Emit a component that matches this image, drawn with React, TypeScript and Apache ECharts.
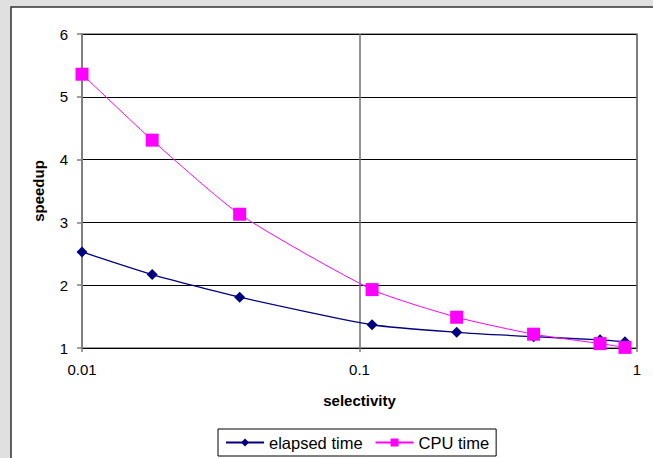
import React, { useEffect, useRef } from "react";
import * as echarts from "echarts";

const selectivity = [0.01, 0.0179, 0.037, 0.111, 0.224, 0.424, 0.736, 0.905];
const elapsedTime = [2.53, 2.17, 1.81, 1.37, 1.25, 1.18, 1.13, 1.1];
const cpuTime = [5.36, 4.31, 3.13, 1.93, 1.49, 1.22, 1.07, 1.01];
const seriesNames = ["elapsed time", "CPU time"];

const FONT = "Liberation Sans, Arial, sans-serif";

export default function App() {
  const ref = useRef<HTMLDivElement>(null);
  useEffect(() => {
    if (!ref.current) return;
    const chart = echarts.init(ref.current, null, { renderer: "svg" });
    chart.setOption({
      animation: false,
      backgroundColor: "#e0e0e0",
      textStyle: { fontFamily: FONT },
      graphic: [
        {
          type: "rect",
          z: -10,
          silent: true,
          shape: { x: 11, y: 7, width: 700, height: 500 },
          style: { fill: "#ffffff", stroke: "#333333", lineWidth: 1.5 },
        },
      ],
      grid: {
        left: 82,
        top: 34,
        right: 16,
        bottom: 110,
        show: true,
        borderColor: "#808080",
        borderWidth: 1.5,
        backgroundColor: "#ffffff",
      },
      xAxis: {
        type: "log",
        logBase: 10,
        min: 0.01,
        max: 1,
        name: "selectivity",
        nameLocation: "middle",
        nameGap: 45,
        nameTextStyle: { fontFamily: FONT, fontSize: 15, fontWeight: "bold", color: "#000" },
        axisLine: { show: true, lineStyle: { color: "#000", width: 1 } },
        axisTick: { show: true, length: 4, lineStyle: { color: "#808080", width: 1.5 } },
        axisLabel: {
          margin: 14,
          fontFamily: FONT,
          fontSize: 15,
          color: "#000",
          formatter: (v: number) => String(parseFloat(v.toPrecision(3))),
        },
        splitLine: { show: true, lineStyle: { color: "#707070", width: 1.5 } },
        minorTick: { show: false },
      },
      yAxis: {
        type: "value",
        min: 1,
        max: 6,
        interval: 1,
        name: "speedup",
        nameLocation: "middle",
        nameRotate: 90,
        nameGap: 36,
        nameTextStyle: { fontFamily: FONT, fontSize: 15, fontWeight: "bold", color: "#000" },
        axisLine: { show: true, lineStyle: { color: "#808080", width: 2 } },
        axisTick: { show: true, length: 5, lineStyle: { color: "#808080", width: 1.5 } },
        axisLabel: { margin: 14, fontFamily: FONT, fontSize: 15, color: "#000" },
        splitLine: { show: true, lineStyle: { color: "#000", width: 1 } },
      },
      legend: {
        left: 218,
        top: 429,
        itemWidth: 38,
        itemHeight: 10,
        itemGap: 12,
        padding: [5, 7, 5, 7],
        borderColor: "#000",
        borderWidth: 1,
        borderRadius: 0,
        backgroundColor: "#fff",
        textStyle: { fontFamily: FONT, fontSize: 16.5, color: "#000" },
        data: seriesNames,
      },
      series: [
        {
          name: seriesNames[0],
          type: "line",
          smooth: 0.2,
          symbol: "diamond",
          symbolSize: 11,
          itemStyle: { color: "#000080" },
          lineStyle: { color: "#000080", width: 1.3 },
          data: selectivity.map((x, i) => [x, elapsedTime[i]]),
          z: 3,
        },
        {
          name: seriesNames[1],
          type: "line",
          smooth: 0.2,
          symbol: "rect",
          symbolSize: 13,
          itemStyle: { color: "#ff00ff" },
          lineStyle: { color: "#ff00ff", width: 1 },
          data: selectivity.map((x, i) => [x, cpuTime[i]]),
          z: 4,
        },
      ],
    });
    return () => chart.dispose();
  }, []);
  return (
    <div
      ref={ref}
      style={{ position: "fixed", left: 0, top: 0, width: 653, height: 458 }}
    />
  );
}
